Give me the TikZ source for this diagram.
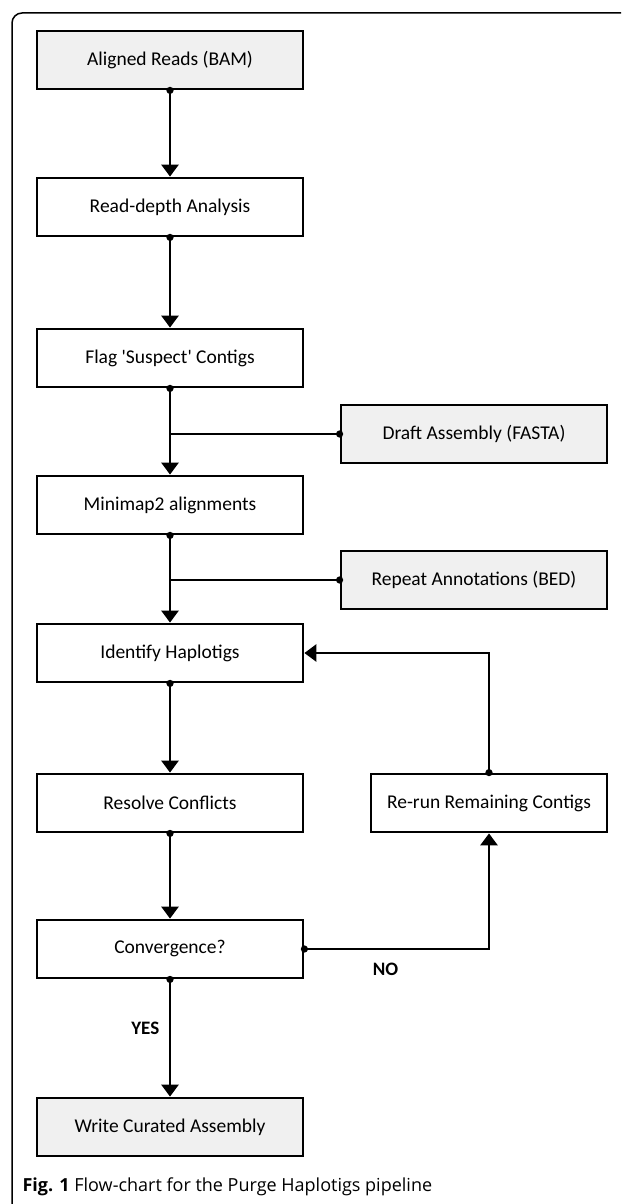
\documentclass[tikz,border=0pt]{standalone}
\usepackage{fontspec}
\setmainfont{Carlito}
\newfontfamily\capfont{Open Sans}
\usetikzlibrary{arrows.meta}

\begin{document}
\begin{tikzpicture}[x=1pt,y=-1pt,
		box/.style={draw,line width=2.8pt,minimum width=266pt,minimum height=58pt,inner sep=0pt,font=\fontsize{19.5}{23}\selectfont},
		inbox/.style={box,fill=black!6},
		flow/.style={line width=2.8pt,shorten <=-3.5pt,{Circle[length=7pt]}-{Triangle[length=12pt,width=17pt]}},
		feed/.style={line width=2.8pt,shorten <=-3.5pt,{Circle[length=7pt]}-},
		lab/.style={font=\fontsize{19}{23}\selectfont\bfseries}]
		\useasboundingbox (0,0) rectangle (621,1204);
		\draw [line width=1.5pt,rounded corners=10pt] (12,1204) -- (12,13) -- (621,13);
		% main column
		\node [inbox] (reads) at (170,60) {Aligned Reads (BAM)};
		\node [box] (depth) at (170,207) {Read-depth Analysis};
		\node [box] (flag) at (170,358) {Flag \textquotesingle Suspect\textquotesingle\ Contigs};
		\node [box] (mini) at (170,505) {Minimap2 alignments};
		\node [box] (ident) at (170,653) {Identify Haplotigs};
		\node [box] (resolve) at (170,803) {Resolve Conflicts};
		\node [box] (conv) at (170,949) {Convergence?};
		\node [inbox] (write) at (170,1127) {Write Curated Assembly};
		% side inputs
		\node [inbox] (draft) at (474,434) {Draft Assembly (FASTA)};
		\node [inbox] (rep) at (474,580) {Repeat Annotations (BED)};
		\node [box,minimum width=236pt] (rerun) at (489,803) {Re-run Remaining Contigs};
		\draw [flow] (reads.south) -- (depth.north);
		\draw [flow] (depth.south) -- (flag.north);
		\draw [flow] (flag.south) -- (mini.north);
		\draw [feed] (draft.west) -- (draft.west -| flag.south);
		\draw [flow] (mini.south) -- (ident.north);
		\draw [feed] (rep.west) -- (rep.west -| mini.south);
		\draw [flow] (ident.south) -- (resolve.north);
		\draw [flow] (rerun.north) |- (ident.east);
		\draw [flow] (resolve.south) -- (conv.north);
		\draw [flow] (conv.east) -| node [lab,below=9pt,pos=0.22] {NO} (rerun.south);
		\draw [flow] (conv.south) -- node [lab,left=6pt,pos=0.42] {YES} (write.north);
		\node [anchor=base west,font=\capfont\fontsize{18}{22}\selectfont] (cap) at (19,1191) {\textbf{Fig. 1} Flow-chart for the Purge Haplotigs pipeline};
	\end{tikzpicture}
\end{document}
